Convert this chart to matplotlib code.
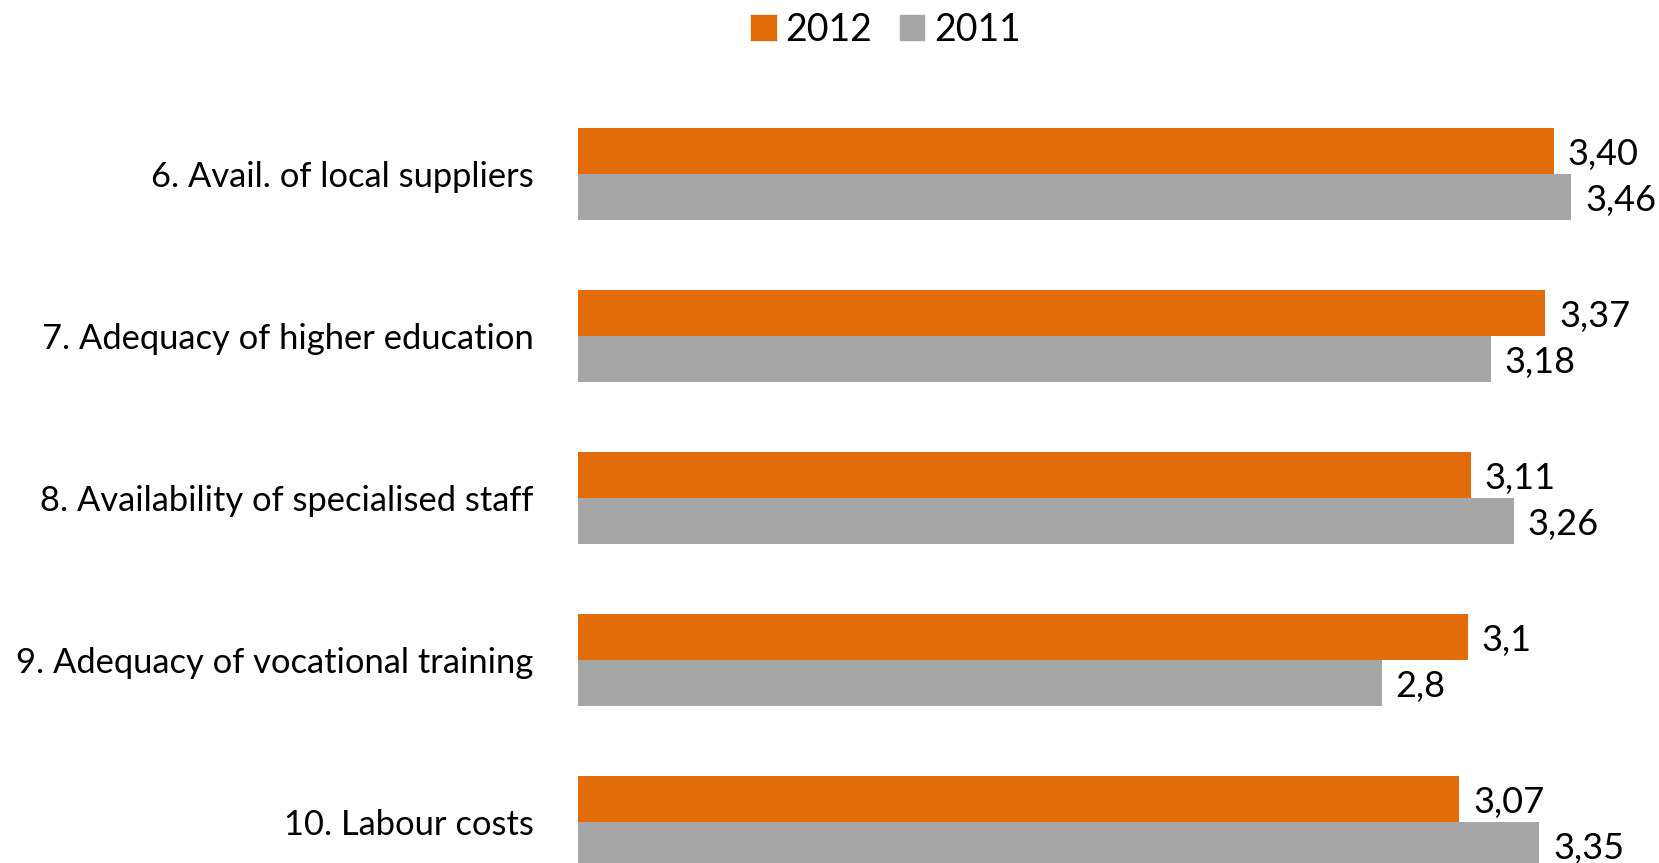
import matplotlib
matplotlib.use("Agg")
import matplotlib.pyplot as plt
from matplotlib.patches import Patch

categories = ["6. Avail. of local suppliers",
              "7. Adequacy of higher education",
              "8. Availability of specialised staff",
              "9. Adequacy of vocational training",
              "10. Labour costs"]
values_2012 = [3.40, 3.37, 3.11, 3.1, 3.07]
values_2011 = [3.46, 3.18, 3.26, 2.8, 3.35]
labels_2012 = ["3,40", "3,37", "3,11", "3,1", "3,07"]
labels_2011 = ["3,46", "3,18", "3,26", "2,8", "3,35"]

ORANGE = "#E36C0A"
GRAY = "#A6A6A6"
FONT = "Lato"

W, H = 1659, 863
fig = plt.figure(figsize=(W / 100, H / 100), dpi=100)
ax = fig.add_axes([578 / W, 0, 1 - 578 / W, 1])

pos = list(range(len(categories)))
bh = 46 / 162
ax.barh([p - bh / 2 for p in pos], values_2012, height=bh, color=ORANGE, edgecolor="none")
ax.barh([p + bh / 2 for p in pos], values_2011, height=bh, color=GRAY, edgecolor="none")

fs = 24.8
vfs = 26
for p, v, t in zip(pos, values_2012, labels_2012):
    ax.annotate(t, (v, p - bh / 2), xytext=(10, -2.5), textcoords="offset points",
                va="center", ha="left", fontsize=vfs, family=FONT)
for p, v, t in zip(pos, values_2011, labels_2011):
    ax.annotate(t, (v, p + bh / 2), xytext=(10, -2.5), textcoords="offset points",
                va="center", ha="left", fontsize=vfs, family=FONT)

ax.set_xlim(0, (W - 578) / 287)
ax.set_ylim((H - 174) / 162, -174 / 162)
ax.set_yticks(pos)
ax.set_yticklabels(categories, fontsize=fs, family=FONT)
ax.tick_params(axis="y", length=0, pad=32)
ax.set_xticks([])
for s in ax.spines.values():
    s.set_visible(False)

handles = [Patch(color=ORANGE, label="2012"), Patch(color=GRAY, label="2011")]
fig.legend(handles=handles, loc="center", bbox_to_anchor=(886 / W, 1 - 30 / H), ncol=2,
           frameon=False, prop={"family": FONT, "size": 27}, handlelength=0.65,
           handleheight=0.65, handletextpad=0.25, columnspacing=0.75)

fig.savefig("out.png", dpi=100)
